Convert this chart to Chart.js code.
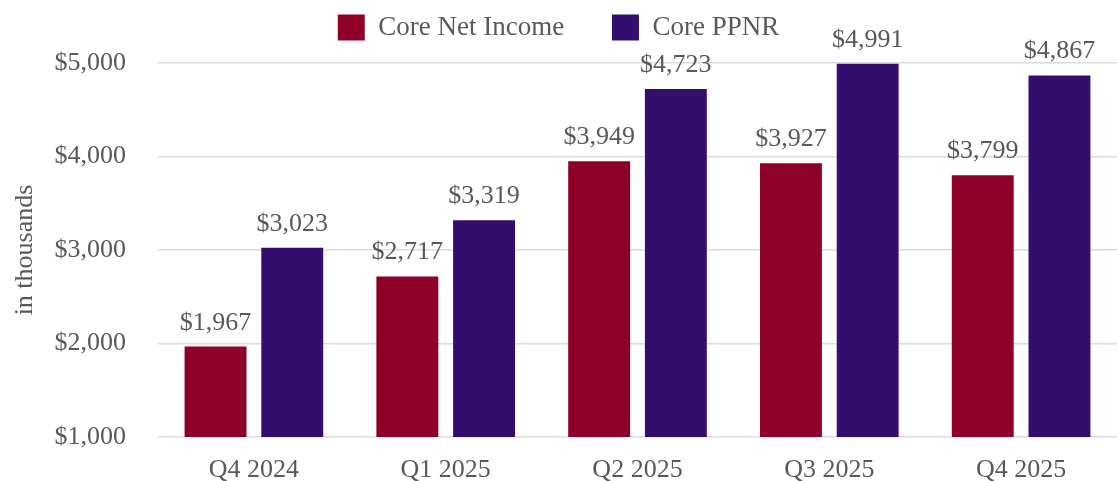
<!DOCTYPE html>
<html lang="en">
<head>
<meta charset="UTF-8">
<title>Core Net Income and Core PPNR</title>
<script src="https://cdn.jsdelivr.net/npm/chart.js"></script>
<style>
  html, body { margin: 0; padding: 0; background: #fff; }
  #wrap { width: 1117px; height: 481px; }
</style>
</head>
<body>
<div id="wrap"><canvas id="coreChart"></canvas></div>
<script>
const quarters = ['Q4 2024', 'Q1 2025', 'Q2 2025', 'Q3 2025', 'Q4 2025'];
const coreNetIncome = [1967, 2717, 3949, 3927, 3799];
const corePPNR = [3023, 3319, 4723, 4991, 4867];
const yTicks = [1000, 2000, 3000, 4000, 5000];

const serif = "'Liberation Serif', 'Times New Roman', serif";
const grey = '#595959';
const money = v => '$' + v.toLocaleString('en-US');

// value above each bar
const barLabels = {
  id: 'barLabels',
  afterDatasetsDraw(chart) {
    const ctx = chart.ctx;
    ctx.save();
    ctx.font = '26px ' + serif;
    ctx.fillStyle = grey;
    ctx.textAlign = 'center';
    ctx.textBaseline = 'alphabetic';
    chart.data.datasets.forEach((ds, i) => {
      chart.getDatasetMeta(i).data.forEach((bar, j) => {
        ctx.fillText(money(ds.data[j]), bar.x, bar.y - 17);
      });
    });
    ctx.restore();
  }
};

// extra room under the legend for the labels
const legendGap = {
  id: 'legendGap',
  beforeInit(chart) {
    const fit = chart.legend.fit;
    chart.legend.fit = function () {
      fit.call(this);
      this.height += 12;
    };
  }
};

new Chart(document.getElementById('coreChart'), {
  type: 'bar',
  data: {
    labels: quarters,
    datasets: [
      { label: 'Core Net Income', data: coreNetIncome, backgroundColor: '#8f0029' },
      { label: 'Core PPNR', data: corePPNR, backgroundColor: '#330e6e' }
    ]
  },
  options: {
    responsive: true,
    maintainAspectRatio: false,
    animation: false,
    datasets: { bar: { categoryPercentage: 0.8, barPercentage: 0.807 } },
    plugins: {
      tooltip: { enabled: false },
      legend: {
        position: 'top',
        labels: {
          font: { family: serif, size: 27 },
          color: grey,
          boxWidth: 27,
          boxHeight: 26,
          padding: 14,
          generateLabels(chart) {
            const items = Chart.defaults.plugins.legend.labels.generateLabels(chart);
            items[0].text += '\u2003\u2005';
            return items;
          }
        }
      }
    },
    scales: {
      x: {
        grid: { display: false },
        border: { display: false },
        ticks: { font: { family: serif, size: 26 }, color: grey, padding: 10 },
        afterFit(axis) { axis.height = 44; }
      },
      y: {
        min: 1000,
        max: 5000,
        afterBuildTicks(axis) { axis.ticks = yTicks.map(v => ({ value: v })); },
        afterFit(axis) { axis.width = 158; },
        // invisible tick marks give the gap between labels and grid
        grid: { color: '#dcdcdc', lineWidth: 1.5, tickLength: 32, tickColor: 'rgba(0,0,0,0)' },
        border: { display: false },
        ticks: { font: { family: serif, size: 26 }, color: grey, padding: 0, callback: v => money(v) },
        title: {
          display: true,
          text: 'in thousands',
          font: { family: serif, size: 26 },
          color: grey,
          padding: { top: 10, bottom: 0 }
        }
      }
    }
  },
  plugins: [barLabels, legendGap]
});
</script>
</body>
</html>
